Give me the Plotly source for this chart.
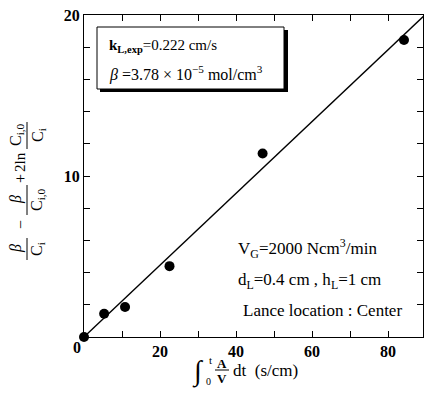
import plotly.graph_objects as go

# data
x_vals = [0, 5.3, 10.8, 22.5, 47, 84.2]
y_vals = [0, 1.44, 1.86, 4.4, 11.4, 18.45]
fit_slope = 0.223
fit_x = [0, 90]
fit_y = [fit_slope * v for v in fit_x]

x_ticks = [20, 40, 60, 80]
y_ticks = [10, 20]

W, H = 424, 401
L, R, T, B = 84, 1, 15, 64
PW = W - L - R
PH = H - T - B
FONT = "Liberation Serif"


def px(p):
    return (p - L) / PW


def py(p):
    return (H - B - p) / PH


fig = go.Figure()
fig.add_trace(go.Scatter(x=fit_x, y=fit_y, mode="lines",
                         line=dict(color="black", width=1.3), showlegend=False))
fig.add_trace(go.Scatter(x=x_vals, y=y_vals, mode="markers",
                         marker=dict(color="black", size=10), showlegend=False,
                         cliponaxis=False))

ann = []


def add(text, x, y, size=15, angle=0, xanchor="center", yanchor="middle"):
    ann.append(dict(text=text, x=px(x), y=py(y), xref="paper", yref="paper",
                    showarrow=False, textangle=angle, xanchor=xanchor,
                    yanchor=yanchor, font=dict(family=FONT, size=size, color="black")))


# origin label
add("<b>0</b>", 77, 347, size=16)

# legend box text
add("<b>k<sub>L,exp</sub></b>=0.222 cm/s", 107, 46, size=15, xanchor="left")
add("<i>β</i> =3.78 × 10<sup>−5</sup> mol/cm<sup>3</sup>", 107, 73, size=16, xanchor="left")

# right text
add("V<sub>G</sub>=2000 Ncm<sup>3</sup>/min", 236, 249, size=17, xanchor="left")
add("d<sub>L</sub>=0.4 cm , h<sub>L</sub>=1 cm", 236, 281, size=17, xanchor="left")
add("Lance location : Center", 241, 310, size=17, xanchor="left")

# y-axis label built from pieces (rotated)
add("<i>β</i>", 16, 249, size=16, angle=-90)
add("C<sub>i</sub>", 38, 249, size=16, angle=-90)
add("−", 20, 225, size=16, angle=-90)
add("<i>β</i>", 16, 200, size=16, angle=-90)
add("C<sub>i,0</sub>", 38, 200, size=16, angle=-90)
add("+", 20, 179, size=16, angle=-90)
add("2ln", 20, 162, size=15, angle=-90)
add("C<sub>i,0</sub>", 16, 135, size=16, angle=-90)
add("C<sub>i</sub>", 38, 135, size=16, angle=-90)

# x-axis title pieces
add("∫", 198, 371, size=28)
add("t", 210, 360, size=11)
add("0", 208, 381, size=10)
add("<b>A</b>", 222, 363, size=13)
add("<b>V</b>", 222, 378, size=13)
add("dt  (s/cm)", 231, 370, size=17, xanchor="left")

shapes = []


def line(x0, y0, x1, y1, w=1):
    shapes.append(dict(type="line", xref="paper", yref="paper",
                       x0=px(x0), y0=py(y0), x1=px(x1), y1=py(y1),
                       line=dict(color="black", width=w)))


# fraction bars
line(27, 238, 27, 260)
line(27, 185, 27, 215)
line(27, 122, 27, 149)
line(215, 370, 229, 370)

# legend box with shadow
shapes.append(dict(type="rect", xref="paper", yref="paper",
                   x0=px(100), y0=py(92), x1=px(288), y1=py(30),
                   fillcolor="black", line=dict(width=0), layer="above"))
shapes.append(dict(type="rect", xref="paper", yref="paper",
                   x0=px(97), y0=py(89), x1=px(284), y1=py(27),
                   fillcolor="white", line=dict(color="black", width=1), layer="above"))

fig.update_layout(
    width=W, height=H,
    margin=dict(l=L, r=R, t=T, b=B),
    paper_bgcolor="white", plot_bgcolor="white",
    annotations=ann, shapes=shapes,
    font=dict(family=FONT, size=16, color="black"),
)
fig.update_xaxes(range=[0, 89.2], tickvals=x_ticks, ticktext=[f"<b>{v}</b>" for v in x_ticks],
                 ticks="inside", ticklen=6, tickcolor="black", mirror="allticks",
                 showline=True, linecolor="black", linewidth=1, showgrid=False,
                 zeroline=False, minor=dict(dtick=10, ticks="inside", ticklen=6, tickcolor="black"),
                 tickfont=dict(family=FONT, size=16))
fig.update_yaxes(range=[0, 20], tickvals=y_ticks, ticktext=[f"<b>{v}</b>" for v in y_ticks],
                 ticks="inside", ticklen=6, tickcolor="black", mirror="allticks",
                 showline=True, linecolor="black", linewidth=1, showgrid=False,
                 zeroline=False, minor=dict(dtick=2, ticks="inside", ticklen=6, tickcolor="black"),
                 tickfont=dict(family=FONT, size=16))

fig.write_html("out.html")
